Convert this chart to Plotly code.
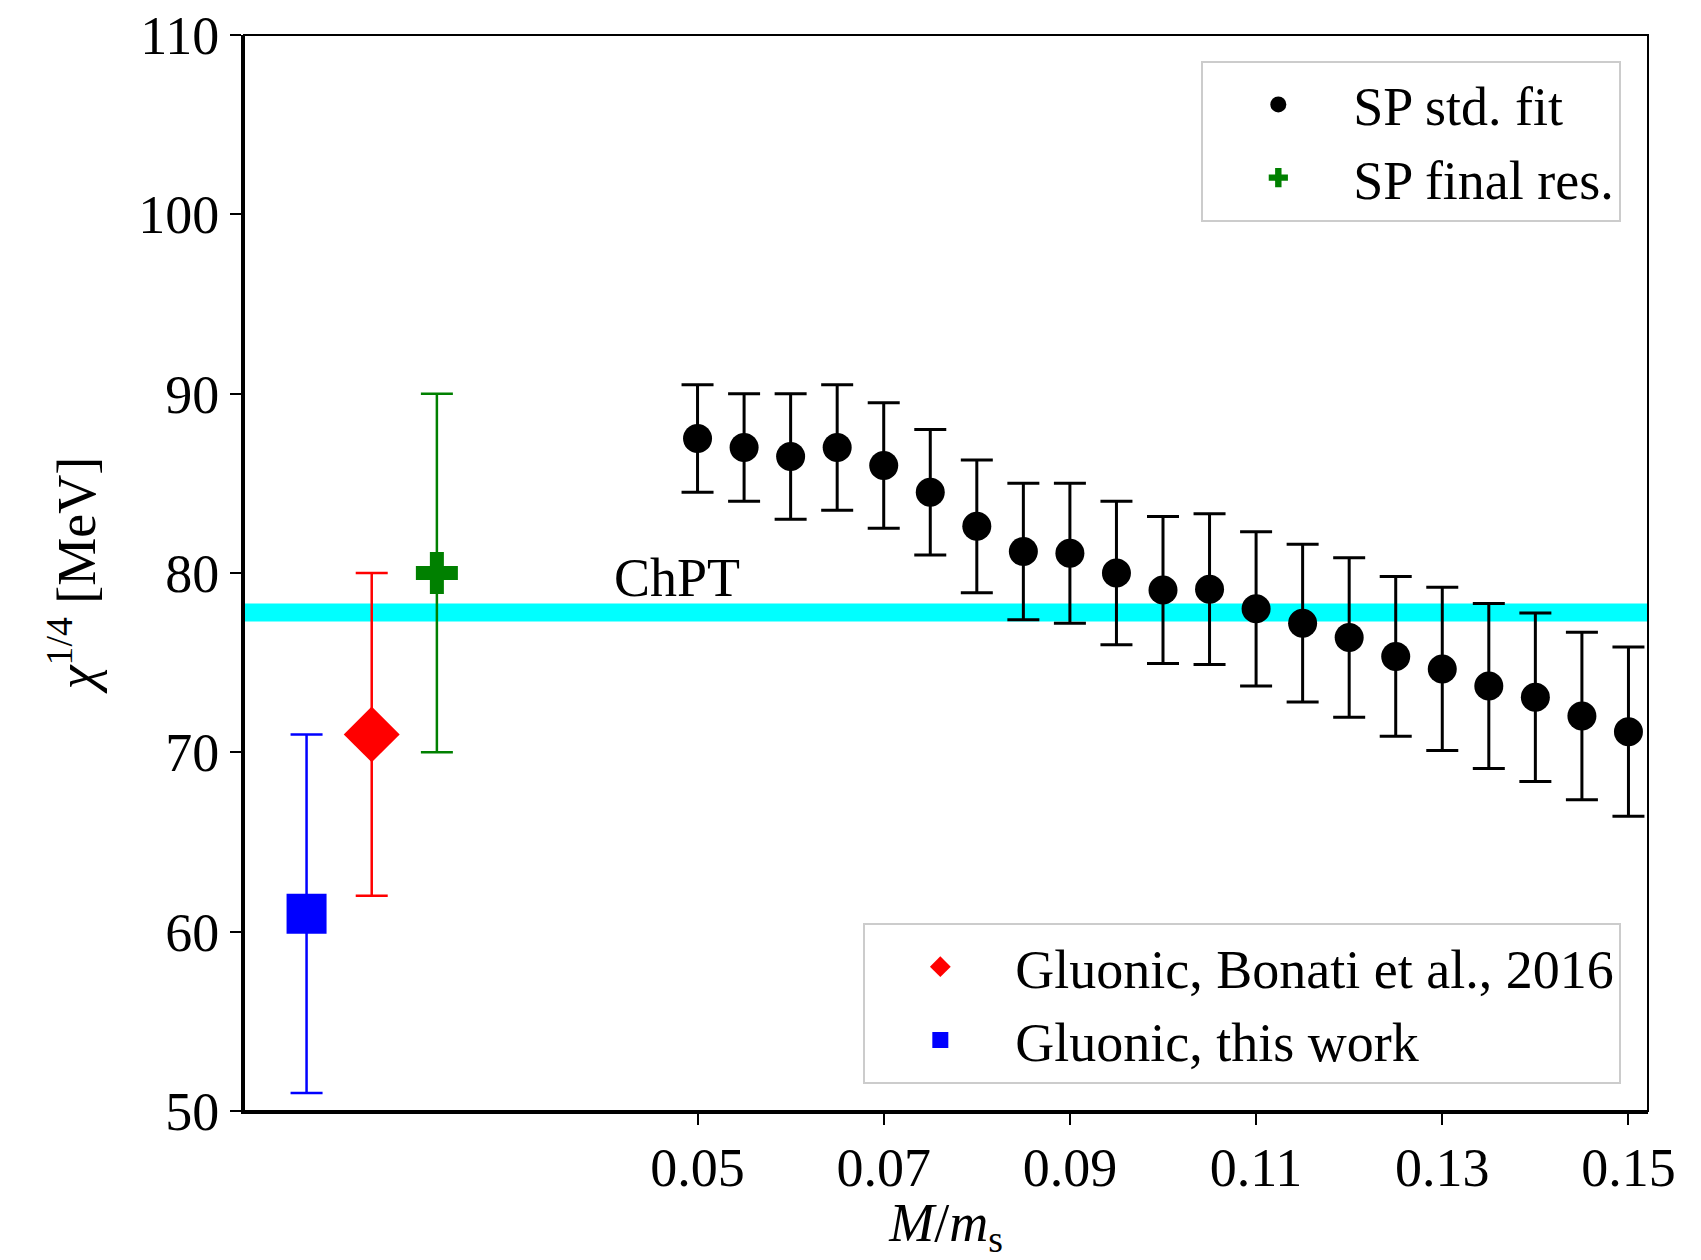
import plotly.graph_objects as go

# ---- data ----
sp_x = [0.05, 0.055, 0.06, 0.065, 0.07, 0.075, 0.08, 0.085, 0.09, 0.095, 0.10,
        0.105, 0.11, 0.115, 0.12, 0.125, 0.13, 0.135, 0.14, 0.145, 0.15]
sp_y = [87.5, 87.0, 86.5, 87.0, 86.0, 84.5, 82.6, 81.2, 81.1, 80.0, 79.05,
        79.1, 78.0, 77.2, 76.4, 75.35, 74.65, 73.7, 73.07, 72.03, 71.15]
sp_err = [3.0, 3.0, 3.5, 3.5, 3.5, 3.5, 3.7, 3.8, 3.9, 4.0, 4.1,
          4.2, 4.3, 4.4, 4.45, 4.45, 4.55, 4.6, 4.7, 4.67, 4.72]

final_x = [0.022]
final_y = [80.0]
final_err = [10.0]

bonati_x = [0.015]
bonati_y = [71.0]
bonati_err = [9.0]

gluonic_x = [0.008]
gluonic_y = [61.0]
gluonic_err = [10.0]

chpt_value = 77.8
chpt_halfwidth = 0.5
chpt_label_x = 0.0478
chpt_label_y = 79.7

x_range = [0.00128, 0.1521]
y_range = [50, 110]
x_tickvals = [0.05, 0.07, 0.09, 0.11, 0.13, 0.15]
x_ticktext = ["0.05", "0.07", "0.09", "0.11", "0.13", "0.15"]
y_tickvals = [50, 60, 70, 80, 90, 100, 110]

FONT = "Liberation Serif"
FS = 54

fig = go.Figure()

fig.add_trace(go.Scatter(
    x=sp_x, y=sp_y, mode="markers", name="SP std. fit",
    marker=dict(symbol="circle", size=29, color="black"),
    error_y=dict(type="data", array=sp_err, color="black", thickness=3, width=16),
    legend="legend",
))
fig.add_trace(go.Scatter(
    x=final_x, y=final_y, mode="markers", name="SP final res.",
    marker=dict(symbol="cross", size=35, color="#008000"),
    error_y=dict(type="data", array=final_err, color="#008000", thickness=2.5, width=16),
    legend="legend",
))
fig.add_trace(go.Scatter(
    x=bonati_x, y=bonati_y, mode="markers", name="Gluonic, Bonati et al., 2016",
    marker=dict(symbol="diamond", size=43, color="#ff0000"),
    error_y=dict(type="data", array=bonati_err, color="#ff0000", thickness=2.5, width=16),
    legend="legend2",
))
fig.add_trace(go.Scatter(
    x=gluonic_x, y=gluonic_y, mode="markers", name="Gluonic, this work",
    marker=dict(symbol="square", size=40, color="#0000ff"),
    error_y=dict(type="data", array=gluonic_err, color="#0000ff", thickness=2.5, width=16),
    legend="legend2",
))

# ChPT band
fig.add_shape(type="rect", xref="paper", yref="y", x0=0, x1=1,
              y0=chpt_value - chpt_halfwidth, y1=chpt_value + chpt_halfwidth,
              fillcolor="#00ffff", line=dict(width=0), layer="below")
fig.add_annotation(x=chpt_label_x, y=chpt_label_y, text="ChPT", showarrow=False,
                   font=dict(family=FONT, size=FS, color="black"))

# frame
fig.add_shape(type="rect", xref="paper", yref="paper", x0=0, x1=1, y0=0, y1=1,
              line=dict(color="black", width=2), layer="above")

legend_common = dict(
    font=dict(family=FONT, size=FS, color="black"),
    bgcolor="rgba(255,255,255,0.8)", bordercolor="#cccccc", borderwidth=2,
    xanchor="right", itemwidth=140,
)

fig.update_layout(
    width=1701, height=1260,
    margin=dict(l=244, r=53, t=35, b=149, autoexpand=False),
    paper_bgcolor="white", plot_bgcolor="white",
    font=dict(family=FONT, size=FS, color="black"),
    showlegend=True,
    legend=dict(x=0.981, y=0.976, yanchor="top", **legend_common),
    legend2=dict(x=0.981, y=0.025, yanchor="bottom", **legend_common),
    xaxis=dict(range=x_range, tickvals=x_tickvals, ticktext=x_ticktext,
               automargin=False,
               showgrid=False, zeroline=False, showline=True, linecolor="black",
               linewidth=3, ticks="outside", ticklen=11, tickwidth=1.5, tickcolor="black",
               tickfont=dict(family=FONT, size=FS), ticklabelstandoff=-4,
               title=dict(text="<i>M</i>/<i>m</i><sub>s</sub>", font=dict(family=FONT, size=FS),
                          standoff=14)),
    yaxis=dict(range=y_range, tickvals=y_tickvals,
               automargin=False,
               showgrid=False, zeroline=False, showline=True, linecolor="black",
               linewidth=3, ticks="outside", ticklen=11, tickwidth=1.5, tickcolor="black",
               tickfont=dict(family=FONT, size=FS),
               title=dict(text="<i>χ</i><sup>1/4</sup> [MeV]", font=dict(family=FONT, size=FS),
                          standoff=26)),
)

fig.write_html("out.html")
